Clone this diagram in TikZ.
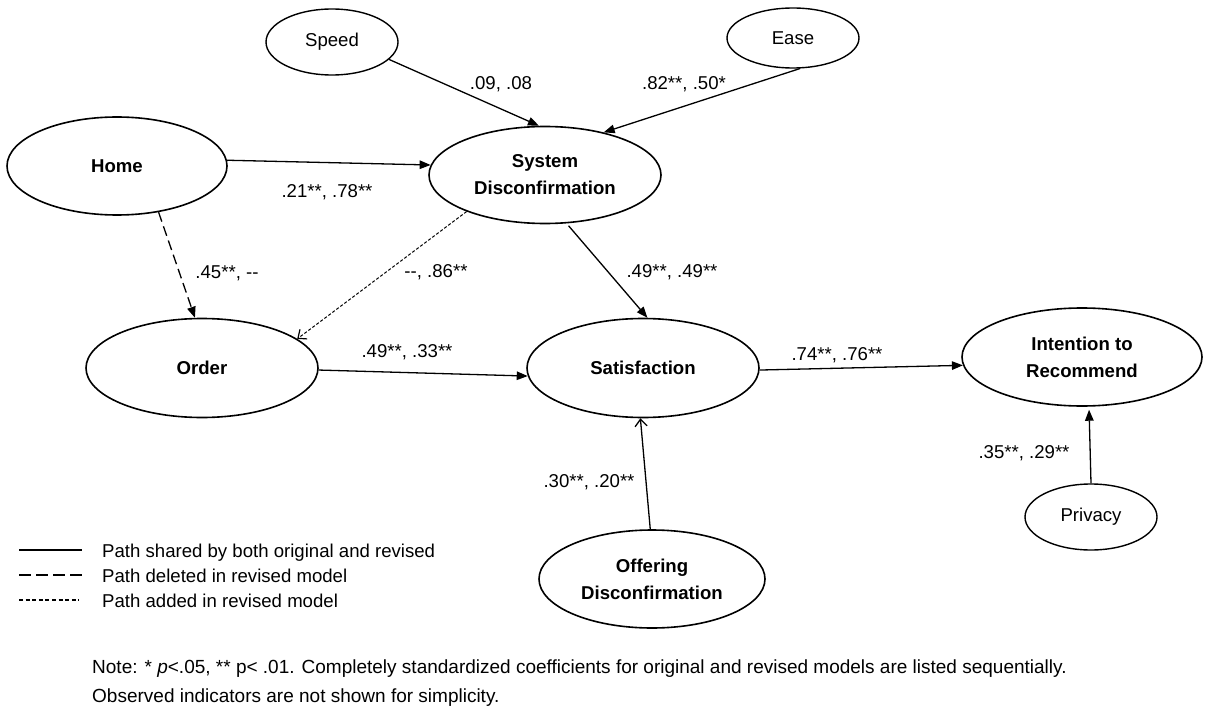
\documentclass[tikz,border=0pt]{standalone}
\usepackage{fontspec}
\setmainfont{Liberation Sans}
\usetikzlibrary{shapes.geometric,arrows.meta}
\begin{document}
\begin{tikzpicture}[x=1pt,y=-1pt,
  lv/.style={ellipse,draw,line width=1.6pt,inner sep=0pt,
    font=\fontsize{18.6}{27}\selectfont\bfseries,align=center},
  ov/.style={ellipse,draw,line width=1.4pt,inner sep=0pt,
    font=\fontsize{18.6}{22}\selectfont},
  sarr/.style={line width=1.3pt,-{Triangle[length=11pt,width=8.5pt]}},
  darr/.style={line width=1.3pt,dash pattern=on 10pt off 5pt,-{Triangle[length=11pt,width=8.5pt]}},
  dotarr/.style={line width=1pt,dash pattern=on 3pt off 2pt,-{Straight Barb[length=7pt,width=12pt,line width=1.2pt]}},
  oarr/.style={line width=1.3pt,-{Straight Barb[length=7pt,width=12pt]}},
  lbl/.style={font=\fontsize{18.6}{22}\selectfont,inner sep=0pt,anchor=base},
  txt/.style={font=\fontsize{18.6}{22}\selectfont,inner sep=0pt,anchor=base west},
  notetxt/.style={font=\fontsize{19}{22}\selectfont,inner sep=0pt,anchor=base west},
]
\useasboundingbox (0,0) rectangle (1205,706);

% nodes
\node[ov,minimum width=132pt,minimum height=66pt] (speed) at (332,42) {Speed};
\node[ov,minimum width=132pt,minimum height=60pt] (ease) at (793,38) {Ease};
\node[lv,minimum width=220pt,minimum height=98pt] (home) at (117,166) {Home};
\node[lv,minimum width=232pt,minimum height=97pt] (sd) at (545,175) {System\\Disconfirmation};
\node[lv,minimum width=232pt,minimum height=99pt] (order) at (202,368) {Order};
\node[lv,minimum width=232pt,minimum height=99pt] (sat) at (643,368) {Satisfaction};
\node[lv,minimum width=240pt,minimum height=98pt] (int) at (1082,357) {Intention to\\Recommend};
\node[lv,minimum width=226pt,minimum height=98pt] (off) at (652,579) {Offering\\Disconfirmation};
\node[ov,minimum width=132pt,minimum height=66pt] (priv) at (1091,517) {Privacy};

% connectors
\draw[sarr] (speed.-17) -- (sd.97);
\draw[sarr] (ease.-77) -- (sd.36);
\draw[sarr] (home.3) -- (sd.175);
\draw[darr] (home.-48) -- (order.98);
\draw[dotarr] (sd.205) -- (order.17);
\draw[sarr,shorten <=3pt] (sd.-66) -- (sat.85);
\draw[sarr] (order.-1) -- (sat.184);
\draw[sarr] (sat.-1) -- (int.184);
\draw[oarr] (off.92) -- (sat.-93);
\draw[sarr,shorten >=3pt] (priv.90) -- (int.-82);

% coefficient labels
\node[lbl] (c1) at (501,90) {.09, .08};
\node[lbl] (c2) at (684,90) {.82**, .50*};
\node[lbl] (c3) at (327,197) {.21**, .78**};
\node[lbl] (c4) at (227,278) {.45**, -{}-};
\node[lbl] (c5) at (436,277) {-{}-, .86**};
\node[lbl] (c6) at (672,277) {.49**, .49**};
\node[lbl] (c7) at (407,357) {.49**, .33**};
\node[lbl] (c8) at (837,360) {.74**, .76**};
\node[lbl] (c9) at (589,487) {.30**, .20**};
\node[lbl] (c10) at (1024,458) {.35**, .29**};

% legend
\coordinate (la1) at (19,550); \coordinate (lb1) at (82,550);
\coordinate (la2) at (19,575); \coordinate (lb2) at (82,575);
\coordinate (la3) at (19,600); \coordinate (lb3) at (79,600);
\draw[line width=1.3pt] (la1) -- (lb1);
\draw[line width=1.3pt,dash pattern=on 12pt off 5pt] (la2) -- (lb2);
\draw[line width=1.3pt,dash pattern=on 4pt off 2.6pt] (la3) -- (lb3);
\node[txt] (t1) at (102,557) {Path shared by both original and revised};
\node[txt] (t2) at (102,582) {Path deleted in revised model};
\node[txt] (t3) at (102,607) {Path added in revised model};

% note
\node[notetxt] (n1) at (92,673) {Note: * \textit{p}<.05, ** p< .01. Completely standardized coefficients for original and revised models are listed sequentially.};
\node[notetxt] (n2) at (92,702) {Observed indicators are not shown for simplicity.};
\end{tikzpicture}
\end{document}
